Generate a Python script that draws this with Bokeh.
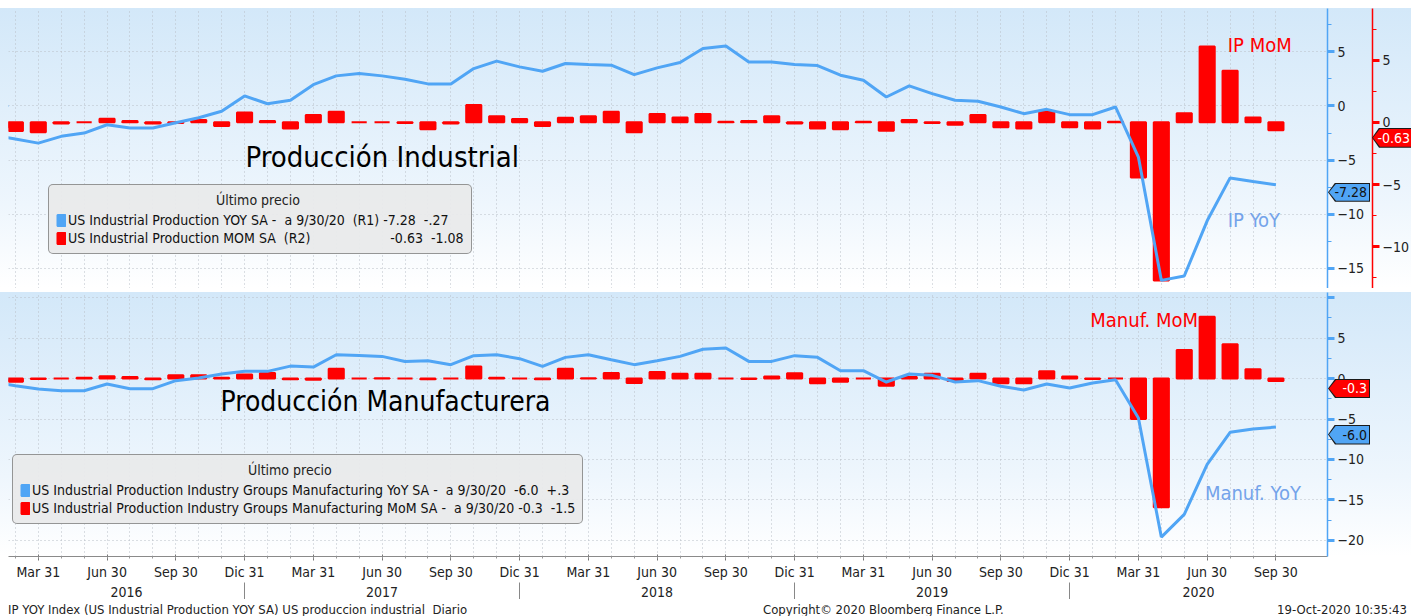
import subprocess
import numpy as np
from bokeh.plotting import figure
from bokeh.models import (Range1d, LinearAxis, FixedTicker, Label, Legend, LegendItem,
                          Div, InlineStyleSheet)
from bokeh.layouts import column
from bokeh.embed import file_html
from bokeh.resources import INLINE

# ---------------- data (monthly, Jan 2016 .. Sep 2020) ----------------
start_year = 2016
ip_yoy = [-2.67, -3.05, -3.43, -2.80, -2.50, -1.73, -2.04, -2.04, -1.55, -1.08, -0.49, 0.93,
          0.21, 0.53, 1.97, 2.78, 2.99, 2.78, 2.47, 2.04, 2.04, 3.45, 4.14, 3.61,
          3.21, 3.92, 3.82, 3.77, 2.90, 3.52, 4.01, 5.31, 5.53, 4.07, 4.07, 3.82,
          3.73, 2.84, 2.38, 0.83, 1.85, 1.14, 0.53, 0.43, -0.09, -0.71, -0.31, -0.80,
          -0.80, -0.09, -4.72, -16.10, -15.70, -10.60, -6.64, -6.97, -7.28]
ip_mom = [-0.40, -0.70, -0.80, -0.10, 0.00, 0.30, 0.10, -0.10, -0.05, 0.20, -0.30, 0.80,
          0.10, -0.50, 0.60, 0.85, 0.00, 0.00, -0.05, -0.55, -0.10, 1.40, 0.50, 0.27,
          -0.30, 0.38, 0.50, 0.85, -0.80, 0.67, 0.40, 0.67, 0.05, 0.10, 0.50, -0.10,
          -0.50, -0.55, 0.05, -0.67, 0.20, -0.05, -0.20, 0.60, -0.40, -0.50, 0.90, -0.40,
          -0.50, 0.05, -4.43, -12.70, 0.73, 6.10, 4.14, 0.40, -0.63]
manuf_yoy = [-0.45, -0.88, -1.30, -1.50, -1.50, -0.68, -1.25, -1.25, -0.26, 0.07, 0.56, 0.89,
             0.89, 1.54, 1.42, 2.95, 2.86, 2.74, 2.12, 2.20, 1.72, 2.83, 2.95, 2.46,
             1.50, 2.62, 2.95, 2.33, 1.72, 2.20, 2.74, 3.63, 3.77, 2.12, 2.12, 2.83,
             2.62, 0.97, 0.97, -0.43, 0.56, 0.40, -0.43, -0.26, -0.96, -1.42, -0.68, -1.17,
             -0.56, -0.14, -4.88, -19.60, -16.80, -10.60, -6.64, -6.23, -6.00]
manuf_mom = [-0.30, -0.40, -0.05, 0.00, 0.10, 0.30, 0.20, -0.10, 0.40, 0.40, 0.10, 0.50,
             0.70, -0.10, -0.15, 1.20, 0.00, 0.05, 0.00, -0.10, 0.00, 1.50, 0.10, 0.00,
             -0.10, 1.20, 0.05, 0.70, -0.55, 0.80, 0.60, 0.60, 0.00, -0.05, 0.25, 0.66,
             -0.58, -0.40, 0.00, -0.90, 0.20, 0.60, -0.30, 0.60, -0.58, -0.58, 0.90, 0.25,
             -0.05, 0.00, -5.00, -15.90, 3.54, 7.65, 4.24, 1.15, -0.30]
quarter_names = ["Mar 31", "Jun 30", "Sep 30", "Dic 31"]
year_names = ["2016", "2017", "2018", "2019", "2020"]

ip_last = {"yoy": -7.28, "yoy_txt": "-7.28", "yoy_chg": "-.27",
           "mom": -0.63, "mom_txt": "-0.63", "mom_chg": "-1.08"}
mf_last = {"yoy": -6.0, "yoy_txt": "-6.0", "yoy_chg": "+.3",
           "mom": -0.3, "mom_txt": "-0.3", "mom_chg": "-1.5"}

x = list(range(len(ip_yoy)))

# ---------------- font selection ----------------
try:
    fams = subprocess.run(["fc-list", ":", "family"], capture_output=True, text=True).stdout
except Exception:
    fams = ""
FONT = "DejaVu Sans Condensed"
for cand in ["Liberation Sans Narrow", "DejaVu Sans Condensed", "Roboto Condensed"]:
    if cand in fams:
        FONT = cand
        break

# ---------------- style / geometry ----------------
BLUE = "#50a5f5"
RED = "#ff0000"
GRID = "#b9bfc6"
NB = "\u00a0"
X0, X1 = 0.7, 58.25
FW = 1319
TOP_H, BOT_H, PAD = 280, 264, 8
TOP_Y = (-16.85, 9.0)
TOP_R = (-13.35, 9.15)
BOT_Y = (-22.0, 10.64)
SEP_TOP = PAD + TOP_H
SEP_H = 4

quarter_ticks = [i for i in x if i % 3 == 2]
quarter_over = {i: quarter_names[(i // 3) % 4] for i in quarter_ticks}
dec_ticks = [i for i in x if i % 12 == 11]
bounds = [X0] + dec_ticks + [X1]
year_centers = [(bounds[k] + bounds[k + 1]) / 2 for k in range(len(bounds) - 1)]


def bg(top_pad, px):
    return InlineStyleSheet(css=(
        ":host { background: linear-gradient(to bottom, #ffffff 0px, #ffffff %dpx, #d3e8f9 %dpx, "
        "#eef6fd %dpx, #ffffff %dpx, #ffffff 100%%); }" % (top_pad, top_pad, top_pad + int(px * 0.7), top_pad + px)))


def style_fig(p):
    p.background_fill_alpha = 0
    p.border_fill_alpha = 0
    p.outline_line_color = None
    p.xgrid.ticker = FixedTicker(ticks=x)
    for g in (p.xgrid, p.ygrid):
        g.grid_line_color = GRID
        g.grid_line_dash = "1 3"
        g.grid_line_width = 1


def style_yaxis(ax, color):
    ax.axis_line_color = color
    ax.axis_line_width = 1.5
    ax.major_tick_line_color = color
    ax.major_tick_line_width = 3
    ax.major_tick_out = 7
    ax.major_tick_in = 0
    ax.minor_tick_line_color = color
    ax.minor_tick_out = 4
    ax.minor_tick_in = 0
    ax.major_label_text_font = FONT
    ax.major_label_text_font_size = "14px"
    ax.major_label_text_color = "#222222"
    ax.major_label_standoff = 3


def note(p, xv, yv, text, color, size, yname="default"):
    p.add_layout(Label(x=xv, y=yv, text=text, y_range_name=yname, text_font=FONT,
                       text_font_size=size, text_color=color,
                       text_baseline="middle", text_align="left"))


def legend(p, items, title, loc):
    lg = Legend(items=items, location=loc, title=title,
                title_text_font=FONT, title_text_font_size="14px", title_text_font_style="normal",
                title_text_color="#222222", title_standoff=3,
                label_text_font=FONT, label_text_font_size="14px", label_text_color="#111111",
                label_height=17, label_standoff=2, glyph_width=10, glyph_height=14,
                spacing=1, padding=7, margin=0,
                background_fill_color="#e9eaeb", background_fill_alpha=0.95,
                border_line_color="#404040", border_line_width=1.5)
    try:
        lg.border_radius = 5
    except Exception:
        pass
    p.add_layout(lg, "center")


# ---------------- top panel: Produccion Industrial ----------------
top = figure(frame_width=FW, frame_height=TOP_H, x_range=Range1d(X0, X1),
             y_range=Range1d(*TOP_Y), x_axis_location=None, y_axis_location="right",
             output_backend="svg", toolbar_location=None,
             min_border_left=PAD, min_border_top=PAD, min_border_bottom=0, min_border_right=84)
top.stylesheets = [bg(PAD, TOP_H)]
style_fig(top)
top.extra_y_ranges = {"red": Range1d(*TOP_R)}

bax = top.yaxis[0]
bax.ticker = FixedTicker(ticks=[-15, -10, -5, 0, 5], minor_ticks=[-12.5, -7.5, -2.5, 2.5, 7.5])
style_yaxis(bax, BLUE)
bax.axis_label = NB
bax.axis_label_text_font_size = "2px"
bax.axis_label_standoff = 0

rax = LinearAxis(y_range_name="red",
                 ticker=FixedTicker(ticks=[-10, -5, 0, 5], minor_ticks=[-12.5, -7.5, -2.5, 2.5, 7.5]))
style_yaxis(rax, RED)
top.add_layout(rax, "right")

ip_bars = top.vbar(x=x, top=ip_mom, bottom=0, width=0.66, y_range_name="red",
                   fill_color=RED, line_color=RED, line_width=2)
top.line(x, ip_yoy, line_color=BLUE, line_width=3)
ip_key = top.vbar(x=x[:1], top=[0], bottom=[0], width=0, fill_color=BLUE, line_color=BLUE, line_width=2)

note(top, 53.9, 5.6, "IP MoM", RED, "20px")
note(top, 53.9, -10.5, "IP YoY", "#74a3ea", "20px")
note(top, 11.04, -4.75, "Producción Industrial", "#000000", "29px")

t_title = NB * 40 + "Último precio"
t1 = "US Industrial Production YOY SA -" + NB * 2 + "a 9/30/20" + NB * 2 + "(R1) " + ip_last["yoy_txt"] + NB * 2 + ip_last["yoy_chg"]
t2 = "US Industrial Production MOM SA" + NB * 2 + "(R2)" + NB * 20 + ip_last["mom_txt"] + NB * 2 + ip_last["mom_chg"]
legend(top, [LegendItem(label=t1, renderers=[ip_key]), LegendItem(label=t2, renderers=[ip_bars])],
       t_title, (40, 34))

# ---------------- bottom panel: Produccion Manufacturera ----------------
bot = figure(frame_width=FW, frame_height=BOT_H, x_range=top.x_range,
             y_range=Range1d(*BOT_Y), y_axis_location="right",
             output_backend="svg", toolbar_location=None,
             min_border_left=PAD, min_border_top=0, min_border_bottom=0, min_border_right=84)
bot.stylesheets = [bg(0, BOT_H)]
style_fig(bot)

yb = bot.yaxis[0]
yb.ticker = FixedTicker(ticks=[-20, -15, -10, -5, 0, 5, 10],
                        minor_ticks=[-17.5, -12.5, -7.5, -2.5, 2.5, 7.5])
yb.major_label_overrides = {10: ""}
style_yaxis(yb, BLUE)

mf_bars = bot.vbar(x=x, top=manuf_mom, bottom=0, width=0.66,
                   fill_color=RED, line_color=RED, line_width=2)
bot.line(x, manuf_yoy, line_color=BLUE, line_width=3)
mf_key = bot.vbar(x=x[:1], top=[0], bottom=[0], width=0, fill_color=BLUE, line_color=BLUE, line_width=2)

note(bot, 47.9, 7.2, "Manuf. MoM", RED, "20px")
note(bot, 52.9, -14.1, "Manuf. YoY", "#74a3ea", "20px")
note(bot, 9.95, -2.8, "Producción Manufacturera", "#000000", "28px")

b_title = NB * 57 + "Último precio"
b1 = "US Industrial Production Industry Groups Manufacturing YoY SA -" + NB * 2 + "a 9/30/20" + NB * 2 + mf_last["yoy_txt"] + NB * 2 + mf_last["yoy_chg"]
b2 = "US Industrial Production Industry Groups Manufacturing MoM SA -" + NB * 2 + "a 9/30/20 " + mf_last["mom_txt"] + NB * 2 + mf_last["mom_chg"]
legend(bot, [LegendItem(label=b1, renderers=[mf_key]), LegendItem(label=b2, renderers=[mf_bars])],
       b_title, (4, 32))

# x axes (quarters, then years with separators)
xa = bot.xaxis[0]
xa.ticker = FixedTicker(ticks=quarter_ticks, minor_ticks=x)
xa.major_label_overrides = quarter_over
xa.axis_line_color = "#8a8a8a"
xa.major_tick_line_color = "#777777"
xa.minor_tick_line_color = "#999999"
xa.major_tick_out = 4
xa.major_tick_in = 2
xa.minor_tick_out = 2
xa.minor_tick_in = 0
xa.major_label_standoff = 3
xa.major_label_text_font = FONT
xa.major_label_text_font_size = "14px"
xa.major_label_text_color = "#222222"

ya = LinearAxis(ticker=FixedTicker(ticks=year_centers, minor_ticks=dec_ticks),
                major_label_overrides={c: n for c, n in zip(year_centers, year_names)})
ya.axis_line_color = None
ya.major_tick_line_color = None
ya.major_tick_out = 0
ya.major_tick_in = 0
ya.minor_tick_line_color = "#888888"
ya.minor_tick_out = 20
ya.minor_tick_in = 0
ya.major_label_standoff = -16
ya.major_label_text_font = FONT
ya.major_label_text_font_size = "14px"
ya.major_label_text_color = "#222222"
bot.add_layout(ya, "below")


# ---------------- last-value callouts on the right axes (HTML overlay) ----------------
def y_to_px(v, rng, top_px, h):
    return top_px + (rng[1] - v) / (rng[1] - rng[0]) * h


def callout_html(left, cy, w, h, fill, tcolor, text):
    poly = "polygon(7px 0, 100% 0, 100% 100%, 7px 100%, 0 50%)"
    t = cy - SEP_TOP - h / 2.0
    return ('<div style="position:absolute;left:%dpx;top:%.1fpx;width:%dpx;height:%dpx;background:#1a1a1a;'
            'clip-path:%s;z-index:50;">'
            '<div style="position:absolute;left:1px;top:1px;right:1px;bottom:1px;background:%s;clip-path:%s;'
            'color:%s;font-family:\'%s\';font-size:14px;line-height:%dpx;text-align:right;padding-right:2px;'
            'box-sizing:border-box;">%s</div></div>') % (left, t, w, h, poly, fill, poly, tcolor, FONT, h - 2, text)


blue_x = PAD + FW + 1
red_x = PAD + FW + 45
bot_top = SEP_TOP + SEP_H
calls = [
    callout_html(blue_x, y_to_px(ip_last["yoy"], TOP_Y, PAD, TOP_H), 42, 19, BLUE, "#111111", ip_last["yoy_txt"]),
    callout_html(red_x, y_to_px(ip_last["mom"], TOP_R, PAD, TOP_H), 41, 20, RED, "#ffffff", ip_last["mom_txt"]),
    callout_html(blue_x, y_to_px(mf_last["mom"], BOT_Y, bot_top, BOT_H), 42, 19, RED, "#ffffff", mf_last["mom_txt"]),
    callout_html(blue_x, y_to_px(mf_last["yoy"], BOT_Y, bot_top, BOT_H), 42, 20, BLUE, "#111111", mf_last["yoy_txt"]),
]
sep_html = ('<div style="position:relative;width:1411px;height:%dpx;background:#3b3b3b;">' % SEP_H
            + "".join(calls) + '</div>')
over_css = InlineStyleSheet(css=":host{overflow:visible !important;} div{overflow:visible !important;}")
sep = Div(text=sep_html, width=1411, height=SEP_H, margin=0, stylesheets=[over_css])

foot_html = (
    '<div style="position:relative;width:1411px;height:17px;font-family:\'%s\';'
    'font-size:13px;color:#222;line-height:17px;white-space:nowrap;">'
    '<span style="position:absolute;left:8px;top:2px;">IP YOY Index (US Industrial Production YOY SA) US produccion industrial&nbsp;&nbsp;Diario</span>'
    '<span style="position:absolute;left:763px;top:2px;">Copyright&copy; 2020 Bloomberg Finance L.P.</span>'
    '<span style="position:absolute;right:4px;top:2px;">19-Oct-2020 10:35:43</span></div>'
) % FONT
footer = Div(text=foot_html, width=1411, height=17, margin=0)

layout = column(top, sep, bot, footer, spacing=0)
open("out.html", "w").write(file_html(layout, INLINE))
